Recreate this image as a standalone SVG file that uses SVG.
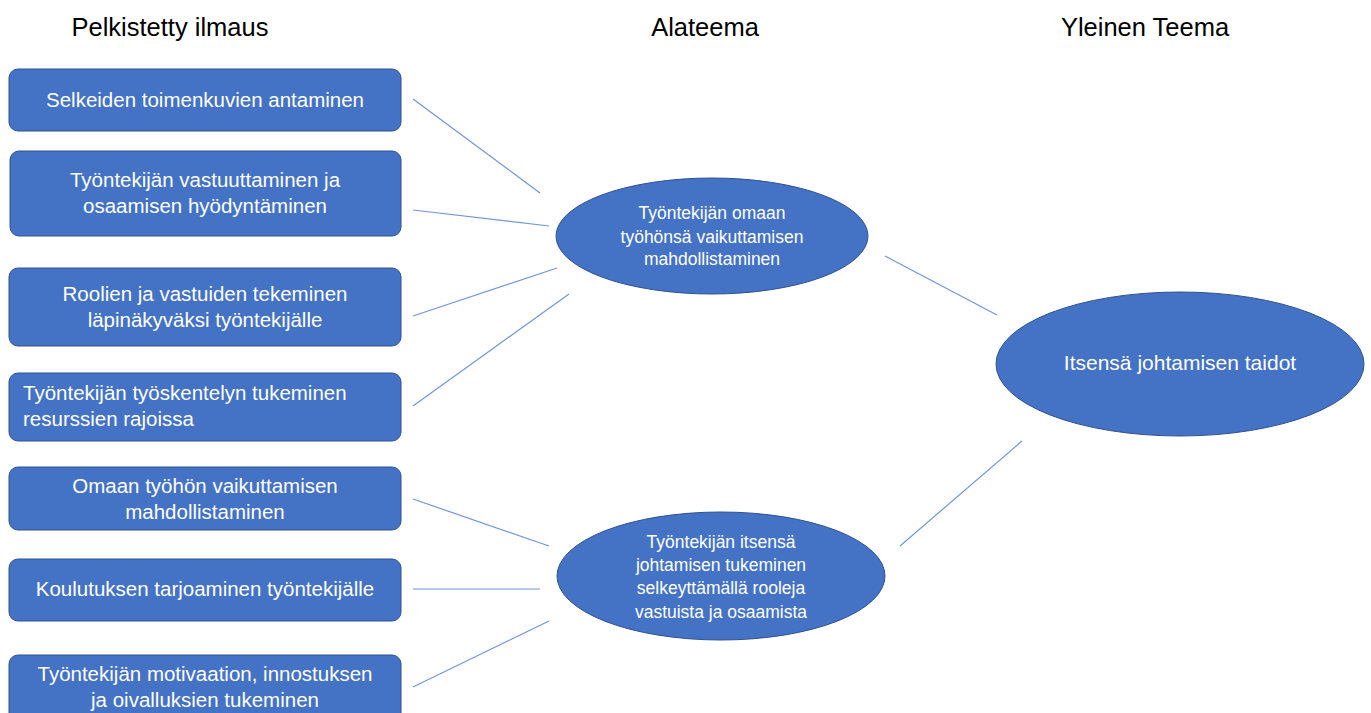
<svg xmlns="http://www.w3.org/2000/svg" width="1371" height="713" viewBox="0 0 1371 713">
<style>
.box{fill:#4472C4;stroke:#2F528F;stroke-width:1}
.t{font-family:"Liberation Sans",Arial,sans-serif;fill:#ffffff;font-size:20.5px;text-anchor:middle}
.te{font-family:"Liberation Sans",Arial,sans-serif;fill:#ffffff;font-size:17.5px;text-anchor:middle}
.h{font-family:"Liberation Sans",Arial,sans-serif;fill:#000000;font-size:25.5px;text-anchor:middle}
.c{stroke:#7096D8;stroke-width:1.2;fill:none}
</style>
<rect width="1371" height="713" fill="#ffffff"/>
<g id="headers">
<text class="h" x="170" y="36">Pelkistetty ilmaus</text>
<text class="h" x="705" y="36">Alateema</text>
<text class="h" x="1145" y="36">Yleinen Teema</text>
</g>
<g id="connectors">
<line class="c" x1="413" y1="99" x2="540" y2="193"/>
<line class="c" x1="413" y1="210" x2="549" y2="226"/>
<line class="c" x1="413" y1="316" x2="557" y2="268"/>
<line class="c" x1="413" y1="406" x2="569" y2="294"/>
<line class="c" x1="413" y1="499" x2="549" y2="546"/>
<line class="c" x1="413" y1="589" x2="540" y2="589"/>
<line class="c" x1="413" y1="687" x2="549" y2="621"/>
<line class="c" x1="885" y1="256" x2="997" y2="315"/>
<line class="c" x1="900" y1="546" x2="1022" y2="441"/>
</g>
<g id="n1"><rect class="box" x="9" y="69" width="392" height="62" rx="9"/><text class="t" x="205" y="107">Selkeiden toimenkuvien antaminen</text></g>
<g id="n2"><rect class="box" x="10" y="151" width="391" height="85" rx="9"/><text class="t" x="205" y="187">Työntekijän vastuuttaminen ja</text><text class="t" x="205" y="213">osaamisen hyödyntäminen</text></g>
<g id="n3"><rect class="box" x="9" y="268" width="392" height="78" rx="9"/><text class="t" x="205" y="301">Roolien ja vastuiden tekeminen</text><text class="t" x="205" y="327">läpinäkyväksi työntekijälle</text></g>
<g id="n4"><rect class="box" x="9" y="373" width="392" height="68" rx="9"/><text class="t" x="23" y="400" style="text-anchor:start">Työntekijän työskentelyn tukeminen</text><text class="t" x="23" y="426" style="text-anchor:start">resurssien rajoissa</text></g>
<g id="n5"><rect class="box" x="9" y="467" width="392" height="63" rx="9"/><text class="t" x="205" y="493">Omaan työhön vaikuttamisen</text><text class="t" x="205" y="519">mahdollistaminen</text></g>
<g id="n6"><rect class="box" x="9" y="559" width="392" height="62" rx="9"/><text class="t" x="205" y="596">Koulutuksen tarjoaminen työntekijälle</text></g>
<g id="n7"><rect class="box" x="9" y="655" width="392" height="70" rx="9"/><text class="t" x="205" y="681">Työntekijän motivaation, innostuksen</text><text class="t" x="205" y="707">ja oivalluksien tukeminen</text></g>
<g id="e1"><ellipse class="box" cx="712" cy="236" rx="156" ry="58"/><text class="te" x="712" y="219">Työntekijän omaan</text><text class="te" x="712" y="243">työhönsä vaikuttamisen</text><text class="te" x="712" y="265">mahdollistaminen</text></g>
<g id="e2"><ellipse class="box" cx="721" cy="576" rx="164" ry="64"/><text class="te" x="721" y="548">Työntekijän itsensä</text><text class="te" x="721" y="571">johtamisen tukeminen</text><text class="te" x="721" y="594">selkeyttämällä rooleja</text><text class="te" x="721" y="618">vastuista ja osaamista</text></g>
<g id="e3"><ellipse class="box" cx="1180" cy="364" rx="184" ry="72"/><text class="t" x="1180" y="370" style="font-size:21px">Itsensä johtamisen taidot</text></g>
</svg>
